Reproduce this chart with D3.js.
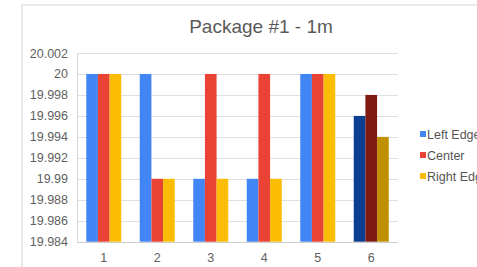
<!DOCTYPE html>
<html><head><meta charset="utf-8">
<script src="https://cdn.jsdelivr.net/npm/d3@7"></script>
<style>body{margin:0;background:#fff;}svg{display:block;font-family:Arial,"Liberation Sans",sans-serif;}</style>
</head><body>
<svg id="c" width="477" height="267"></svg>
<script>
const categories = ["1","2","3","4","5","6"];
const seriesNames = ["Left Edge","Center","Right Edge"];
const leftEdge  = [20, 20, 19.99, 19.99, 20, 19.996];
const center    = [20, 19.99, 20, 20, 20, 19.998];
const rightEdge = [20, 19.99, 19.99, 19.99, 20, 19.994];
const yTicks = [19.984,19.986,19.988,19.99,19.992,19.994,19.996,19.998,20,20.002];
const yTickLabels = ["19.984","19.986","19.988","19.99","19.992","19.994","19.996","19.998","20","20.002"];
const colors = ["#4285f4","#ea4335","#fbbc04"];
const darkColors = ["#0b3d91","#7f1a12","#bf9000"];
const highlighted = ["6"];

const series = [leftEdge, center, rightEdge];
const svg = d3.select("#c");
const L=77, R=398, T=53, B=241.7;

// frame
svg.append("path").attr("d","M22,267V5H477").attr("fill","none").attr("stroke","#e2e2e2").attr("stroke-width",1.5);

const x = d3.scaleBand().domain(categories).range([L,R]).paddingInner(0).paddingOuter(0);
const y = d3.scaleLinear().domain([19.984,20.002]).range([B,T]);
const barW = x.bandwidth()*0.218;

// grid
svg.append("g").selectAll("line").data(yTicks).join("line")
  .attr("x1",L).attr("x2",R).attr("y1",d=>Math.round(y(d))+0.5).attr("y2",d=>Math.round(y(d))+0.5)
  .attr("stroke","#e0e0e0").attr("stroke-width",1);

// left axis line
svg.append("line").attr("x1",L+0.5).attr("x2",L+0.5).attr("y1",T).attr("y2",B).attr("stroke","#d6d6d6");

// bars
const flat=[];
categories.forEach((c,i)=>series.forEach((s,j)=>flat.push({c,j,v:s[i]})));
svg.append("g").selectAll("rect").data(flat).join("rect")
  .attr("x",d=>x(d.c)+x.bandwidth()/2-1.5*barW+d.j*barW)
  .attr("width",barW)
  .attr("y",d=>y(d.v))
  .attr("height",d=>B-y(d.v))
  .attr("fill",d=>highlighted.includes(d.c)?darkColors[d.j]:colors[d.j]);

// bottom axis line
svg.append("line").attr("x1",L).attr("x2",R).attr("y1",Math.round(B)+0.5).attr("y2",Math.round(B)+0.5).attr("stroke","#cccccc").attr("stroke-width",1.2);

// y labels
svg.append("g").selectAll("text").data(yTicks).join("text")
  .attr("x",68).attr("y",d=>y(d)).attr("dy","0.36em").attr("text-anchor","end")
  .attr("font-size",12.5).attr("fill","#5f5f5f").text((d,i)=>yTickLabels[i]);

// x labels
svg.append("g").selectAll("text").data(categories).join("text")
  .attr("x",d=>x(d)+x.bandwidth()/2).attr("y",261.5).attr("text-anchor","middle")
  .attr("font-size",12.5).attr("fill","#5f5f5f").text(d=>d);

// title
svg.append("text").attr("x",261).attr("y",33).attr("text-anchor","middle")
  .attr("font-size",19).attr("fill","#5a5a5a").text("Package #1 - 1m");

// legend
const lg = svg.append("g").selectAll("g").data(seriesNames).join("g")
  .attr("transform",(d,i)=>`translate(420,${134+i*21})`);
lg.append("rect").attr("x",0).attr("y",-3).attr("width",6).attr("height",6).attr("fill",(d,i)=>colors[i]);
lg.append("text").attr("x",7).attr("y",0).attr("dy","0.36em").attr("font-size",12.5).attr("fill","#555").text(d=>d);
</script>
</body></html>
